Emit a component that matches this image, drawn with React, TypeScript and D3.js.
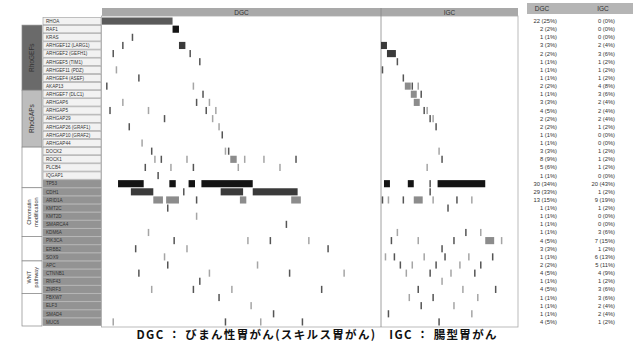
import * as d3 from "d3";

const genes = [
  "RHOA", "RAF1", "KRAS", "ARHGEF12 (LARG1)", "ARHGEF2 (GEFH1)", "ARHGEF5 (TIM1)",
  "ARHGEF11 (PDZ)", "ARHGEF4 (ASEF)", "AKAP13", "ARHGEF7 (DLC1)", "ARHGAP6", "ARHGAP5",
  "ARHGAP29", "ARHGAP26 (GRAF1)", "ARHGAP10 (GRAF2)", "ARHGAP44", "DOCK2", "ROCK1",
  "PLCB4", "IQGAP1", "TP53", "CDH1", "ARID1A", "KMT2C", "KMT2D", "SMARCA4", "KDM6A",
  "PIK3CA", "ERBB2", "SOX9", "APC", "CTNNB1", "RNF43", "ZNRF3", "FBXW7", "ELF3",
  "SMAD4", "MUC6",
];

const dgcFreq = [
  "22 (25%)", "2 (2%)", "1 (1%)", "3 (3%)", "2 (2%)", "1 (1%)", "1 (1%)", "1 (1%)",
  "2 (2%)", "1 (1%)", "3 (3%)", "4 (5%)", "2 (2%)", "2 (2%)", "1 (1%)", "1 (1%)",
  "3 (3%)", "8 (9%)", "5 (6%)", "1 (1%)", "30 (34%)", "29 (33%)", "13 (15%)", "1 (1%)",
  "1 (1%)", "1 (1%)", "1 (1%)", "4 (5%)", "3 (3%)", "1 (1%)", "2 (2%)", "4 (5%)",
  "1 (1%)", "4 (5%)", "1 (1%)", "1 (1%)", "1 (1%)", "4 (5%)",
];
const igcFreq = [
  "0 (0%)", "0 (0%)", "0 (0%)", "2 (4%)", "3 (6%)", "1 (2%)", "1 (2%)", "1 (2%)",
  "4 (8%)", "3 (6%)", "2 (4%)", "2 (4%)", "2 (4%)", "1 (2%)", "0 (0%)", "0 (0%)",
  "1 (2%)", "1 (2%)", "1 (2%)", "0 (0%)", "20 (43%)", "1 (2%)", "9 (19%)", "1 (2%)",
  "0 (0%)", "0 (0%)", "3 (6%)", "7 (15%)", "1 (2%)", "6 (13%)", "5 (11%)", "4 (9%)",
  "1 (2%)", "3 (6%)", "3 (6%)", "2 (4%)", "2 (4%)", "1 (2%)",
];

const groups = [
  { label: ["RhoGEFs"], from: 1, to: 8, fill: "#6a6a6a" },
  { label: ["RhoGAPs"], from: 9, to: 15, fill: "#bdbdbd" },
  { label: [], from: 16, to: 20, fill: "#ffffff" },
  { label: ["Chromatin", "modification"], from: 21, to: 26, fill: "#ffffff" },
  { label: [], from: 27, to: 29, fill: "#ffffff" },
  { label: ["WNT", "pathway"], from: 30, to: 33, fill: "#ffffff" },
  { label: [], from: 34, to: 37, fill: "#ffffff" },
];

const nDgc = 87;
const nIgc = 46;

// [row, first sample, count, type]
const dgcMarks: [number, number, number, string][] = [
  [0, 0, 22, "r"], [1, 22, 2, "a"], [2, 9, 1, "t"], [3, 24, 2, "b"], [3, 6, 1, "t"],
  [4, 3, 1, "t"], [4, 27, 1, "t"], [5, 30, 1, "t"], [6, 4, 1, "u"], [7, 11, 1, "t"],
  [8, 1, 1, "t"], [8, 28, 1, "u"], [9, 31, 1, "t"], [10, 6, 1, "u"], [10, 29, 1, "t"],
  [10, 33, 1, "u"], [11, 2, 1, "t"], [11, 14, 1, "u"], [11, 32, 1, "t"], [11, 35, 1, "u"],
  [12, 19, 1, "t"], [12, 34, 1, "u"], [13, 8, 1, "t"], [13, 36, 1, "u"], [14, 37, 1, "t"],
  [15, 12, 1, "u"], [16, 15, 1, "t"], [16, 38, 1, "u"], [16, 39, 1, "t"], [17, 16, 1, "u"],
  [17, 18, 1, "t"], [17, 26, 1, "u"], [17, 40, 2, "c"], [17, 44, 1, "u"], [17, 50, 1, "u"],
  [17, 60, 1, "t"], [18, 13, 1, "t"], [18, 21, 1, "u"], [18, 28, 1, "t"], [18, 42, 1, "u"],
  [18, 55, 1, "u"], [19, 17, 1, "t"],
  [20, 5, 8, "a"], [20, 21, 2, "a"], [20, 27, 2, "a"], [20, 31, 16, "a"],
  [21, 9, 7, "b"], [21, 25, 1, "t"], [21, 37, 7, "b"], [21, 47, 14, "b"],
  [22, 16, 3, "c"], [22, 20, 4, "c"], [22, 43, 2, "c"], [22, 59, 3, "c"], [22, 29, 1, "t"],
  [23, 20, 1, "t"], [24, 29, 1, "u"], [25, 57, 1, "t"], [26, 14, 1, "u"],
  [27, 22, 1, "t"], [27, 45, 1, "u"], [27, 52, 1, "t"], [27, 64, 1, "u"],
  [28, 10, 1, "t"], [28, 26, 1, "u"], [28, 70, 1, "t"], [29, 19, 1, "u"],
  [30, 20, 1, "t"], [30, 48, 1, "u"], [31, 11, 1, "t"], [31, 33, 1, "u"], [31, 58, 1, "t"],
  [31, 75, 1, "u"], [32, 30, 1, "t"], [33, 15, 1, "u"], [33, 28, 1, "t"], [33, 40, 1, "u"],
  [33, 68, 1, "t"], [34, 36, 1, "t"], [35, 46, 1, "u"], [36, 53, 1, "t"],
  [37, 3, 1, "u"], [37, 38, 1, "t"], [37, 49, 1, "u"], [37, 62, 1, "t"],
];

const igcMarks: [number, number, number, string][] = [
  [3, 0, 2, "b"], [4, 2, 3, "b"], [5, 5, 1, "t"], [6, 0, 1, "t"], [7, 7, 1, "t"],
  [8, 8, 2, "c"], [8, 10, 1, "t"], [8, 12, 1, "u"], [9, 10, 2, "c"], [9, 13, 1, "t"],
  [10, 11, 2, "c"], [11, 14, 1, "t"], [11, 15, 1, "u"], [12, 16, 1, "t"], [12, 17, 1, "u"],
  [13, 18, 1, "t"], [16, 19, 1, "u"], [17, 20, 1, "t"], [18, 15, 1, "u"],
  [20, 1, 2, "a"], [20, 9, 2, "a"], [20, 16, 1, "t"], [20, 19, 16, "a"],
  [21, 16, 1, "t"], [22, 0, 1, "t"], [22, 2, 1, "u"], [22, 7, 1, "t"], [22, 11, 3, "c"],
  [22, 17, 1, "u"], [22, 25, 1, "t"], [22, 30, 1, "u"], [23, 22, 1, "t"],
  [26, 5, 1, "u"], [26, 28, 1, "t"], [26, 33, 1, "u"],
  [27, 35, 3, "c"], [27, 3, 1, "t"], [27, 12, 1, "u"], [27, 24, 1, "t"], [27, 40, 1, "u"],
  [28, 20, 1, "t"], [29, 1, 1, "u"], [29, 4, 1, "t"], [29, 14, 1, "u"], [29, 21, 1, "t"],
  [29, 29, 1, "u"], [29, 37, 1, "t"], [30, 6, 1, "t"], [30, 10, 1, "u"], [30, 18, 1, "t"],
  [30, 26, 1, "u"], [30, 33, 1, "t"], [31, 8, 1, "u"], [31, 16, 1, "t"], [31, 23, 1, "u"],
  [31, 31, 1, "t"], [32, 20, 1, "u"], [33, 12, 1, "t"], [33, 27, 1, "u"], [33, 38, 1, "t"],
  [34, 9, 1, "u"], [34, 17, 1, "t"], [34, 32, 1, "u"], [35, 13, 1, "t"], [35, 24, 1, "u"],
  [36, 2, 1, "t"], [36, 30, 1, "u"], [37, 19, 1, "t"],
];

const markColor: Record<string, string> = {
  r: "#5a5a5a",
  a: "#141414",
  b: "#3a3a3a",
  c: "#8c8c8c",
  t: "#555555",
  u: "#a5a5a5",
};

const W = 633;
const H = 342;
const top = 17;
const bottom = 326;
const xLab = 43;
const xDgc = 102;
const xSplit = 381;
const xEnd = 518;

const App = () => {
  const y = d3.scaleBand<number>().domain(d3.range(genes.length)).range([top, bottom]);
  const xd = d3.scaleBand<number>().domain(d3.range(nDgc)).range([xDgc, xSplit]);
  const xi = d3.scaleBand<number>().domain(d3.range(nIgc)).range([xSplit, xEnd]);
  const rh = y.bandwidth();

  const drawMarks = (marks: [number, number, number, string][], x: d3.ScaleBand<number>, key: string) =>
    marks.map(([r, s, n, t], i) => {
      const thin = t === "t" || t === "u";
      const x0 = x(s)!;
      if (thin) {
        return (
          <rect key={key + i} x={x0 + x.bandwidth() / 2 - 0.75} y={y(r)! + 0.5} width={1.5}
            height={rh - 1} fill={markColor[t]} />
        );
      }
      return (
        <rect key={key + i} x={x0} y={y(r)! + 0.5} width={x.bandwidth() * n}
          height={rh - 1} fill={markColor[t]} />
      );
    });

  return (
    <div style={{ position: "absolute", left: 0, top: 0 }}>
      <svg width={W} height={H} style={{ display: "block", fontFamily: "Liberation Sans, Arial, sans-serif" }}>
        <rect width={W} height={H} fill="#fff" />

        {/* header bar */}
        <rect x={xDgc} y={8} width={xEnd - xDgc} height={8} fill="#a9a9a9" />
        <text x={(xDgc + xSplit) / 2} y={14.5} fontSize={6.5} textAnchor="middle" fill="#333">DGC</text>
        <text x={(xSplit + xEnd) / 2} y={14.5} fontSize={6.5} textAnchor="middle" fill="#333">IGC</text>

        {/* group boxes */}
        {groups.map((g, i) => {
          const y0 = y(g.from)!;
          const y1 = y(g.to)! + rh;
          const cy = (y0 + y1) / 2;
          return (
            <g key={"g" + i}>
              <rect x={22} y={y0} width={20} height={y1 - y0} fill={g.fill} stroke="#888" strokeWidth={0.7} />
              {g.label.map((l, j) => (
                <text key={j} transform={`translate(${32 + (j - (g.label.length - 1) / 2) * 7 + 2},${cy}) rotate(-90)`}
                  fontSize={g.label.length > 1 ? 5.5 : 6.5} textAnchor="middle" fill="#333">{l}</text>
              ))}
            </g>
          );
        })}

        {/* gene labels */}
        {genes.map((g, i) => (
          <g key={"l" + i}>
            <rect x={xLab} y={y(i)! + 0.4} width={58} height={rh - 0.8}
              fill={i >= 20 ? "#939393" : "#f2f2f2"} stroke="#9a9a9a" strokeWidth={0.6} />
            <text x={xLab + 3} y={y(i)! + rh / 2 + 1.8} fontSize={4.6} fill="#333">{g}</text>
          </g>
        ))}

        {/* heatmap frame */}
        <rect x={xDgc - 0.5} y={16} width={xEnd - xDgc + 0.5} height={bottom - 16 + 1}
          fill="none" stroke="#aaa" strokeWidth={0.8} />
        <line x1={xSplit} x2={xSplit} y1={8} y2={bottom + 1} stroke="#888" strokeWidth={0.8} />

        {drawMarks(dgcMarks, xd, "d")}
        {drawMarks(igcMarks, xi, "i")}

        {/* frequency table */}
        <rect x={527} y={3} width={106} height={11} fill="#b5b5b5" />
        <text x={542} y={11} fontSize={6.5} textAnchor="middle" fill="#333">DGC</text>
        <text x={603} y={11} fontSize={6.5} textAnchor="middle" fill="#333">IGC</text>
        {genes.map((_, i) => (
          <g key={"t" + i} fontSize={5.8} fill="#333">
            <text x={557} y={y(i)! + rh / 2 + 2} textAnchor="end">{dgcFreq[i]}</text>
            <text x={615} y={y(i)! + rh / 2 + 2} textAnchor="end">{igcFreq[i]}</text>
          </g>
        ))}

        <text x={W / 2} y={339} fontSize={11.5} fontWeight="bold" textAnchor="middle" fill="#111"
          fontFamily="Noto Sans CJK JP, sans-serif" textLength={360} lengthAdjust="spacing">
          DGC ： びまん性胃がん(スキルス胃がん)　IGC ： 腸型胃がん
        </text>
      </svg>
    </div>
  );
};

export default App;
